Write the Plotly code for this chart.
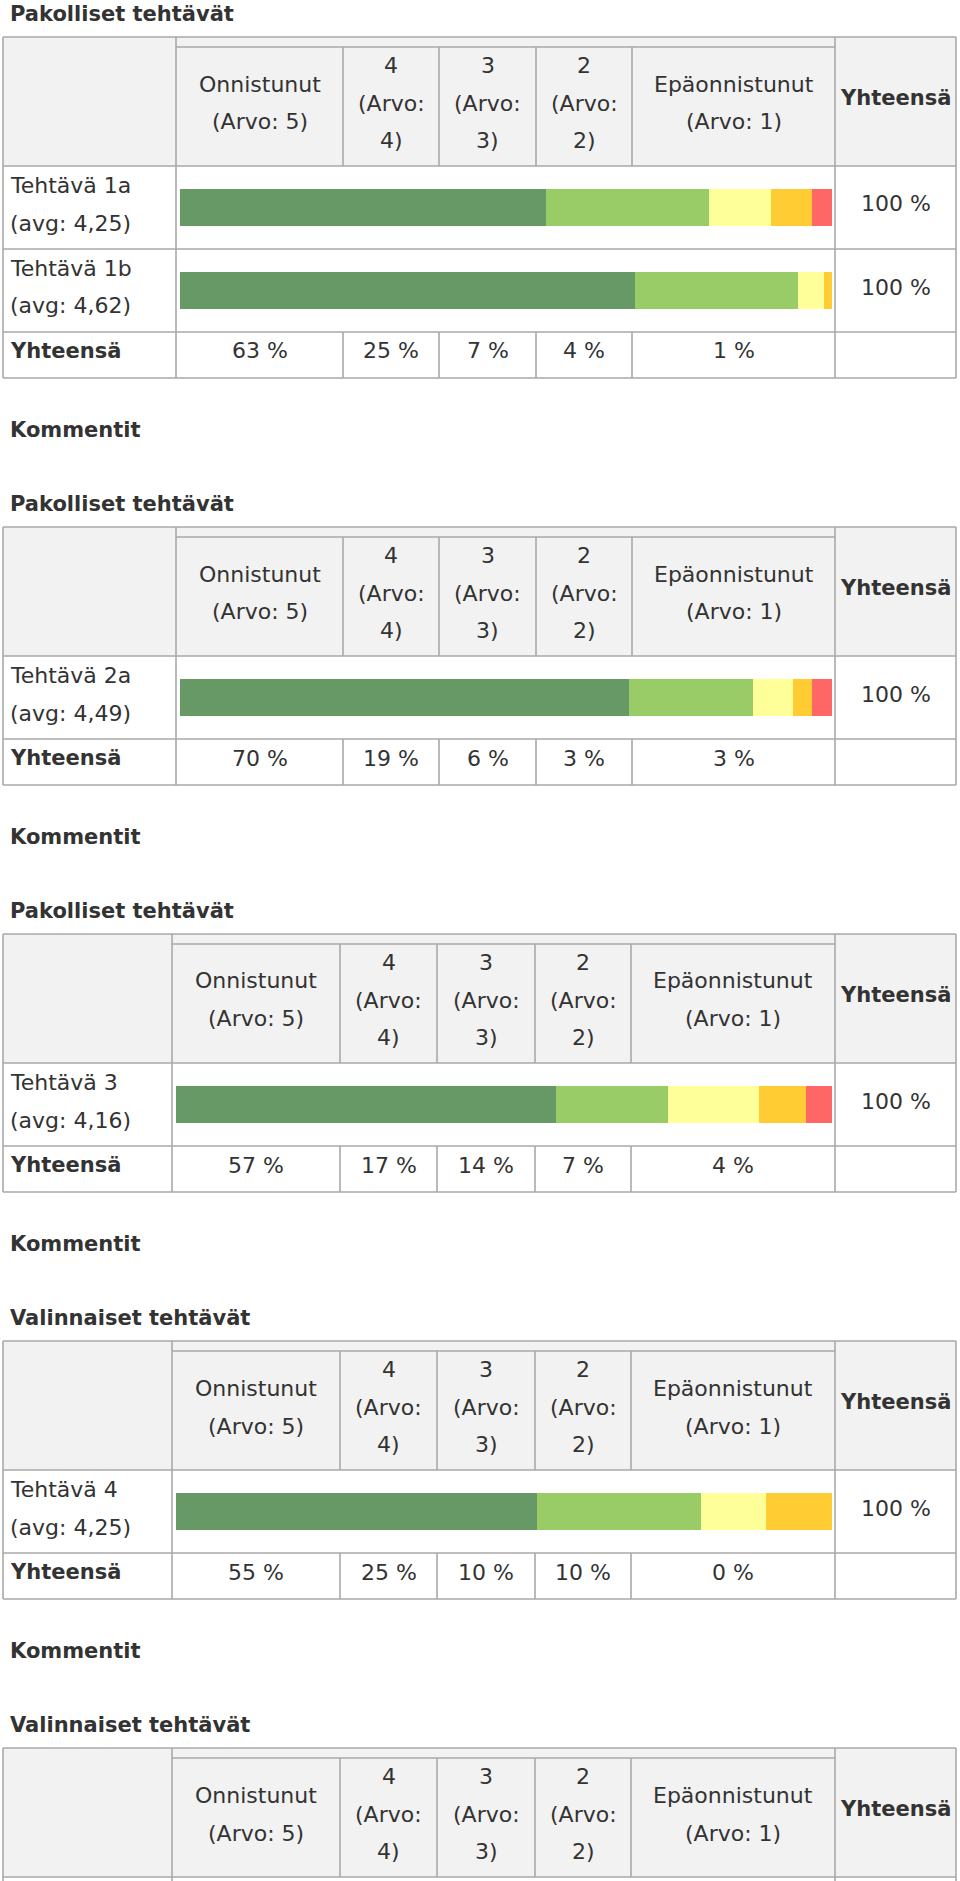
import plotly.graph_objects as go

W, H = 960, 1881

# ---------------- data ----------------
rating_headers = [
    ["Onnistunut", "(Arvo: 5)"],
    ["4", "(Arvo:", "4)"],
    ["3", "(Arvo:", "3)"],
    ["2", "(Arvo:", "2)"],
    ["Epäonnistunut", "(Arvo: 1)"],
]
rating_names = ["Onnistunut (Arvo: 5)", "4 (Arvo: 4)", "3 (Arvo: 3)", "2 (Arvo: 2)", "Epäonnistunut (Arvo: 1)"]
rating_colors = ["#669966", "#99cc66", "#ffff99", "#ffcc33", "#ff6666"]
total_label = "Yhteensä"
comment_label = "Kommentit"

task_names = ["Tehtävä 1a", "Tehtävä 1b", "Tehtävä 2a", "Tehtävä 3", "Tehtävä 4"]
task_avgs = ["(avg: 4,25)", "(avg: 4,62)", "(avg: 4,49)", "(avg: 4,16)", "(avg: 4,25)"]
share_t1a = [56.2, 25.0, 9.4, 6.3, 3.1]
share_t1b = [69.8, 25.0, 4.0, 1.2, 0.0]
share_t2a = [68.9, 19.0, 6.1, 2.9, 3.1]
share_t3 = [57.9, 17.1, 13.9, 7.2, 3.9]
share_t4 = [55.0, 25.0, 10.0, 10.0, 0.0]
task_shares = [share_t1a, share_t1b, share_t2a, share_t3, share_t4]
task_row_totals = ["100 %", "100 %", "100 %", "100 %", "100 %"]

section_titles = ["Pakolliset tehtävät", "Pakolliset tehtävät", "Pakolliset tehtävät",
                  "Valinnaiset tehtävät", "Valinnaiset tehtävät"]
section_tasks = [[0, 1], [2], [3], [4], []]
totals_1 = ["63 %", "25 %", "7 %", "4 %", "1 %"]
totals_2 = ["70 %", "19 %", "6 %", "3 %", "3 %"]
totals_3 = ["57 %", "17 %", "14 %", "7 %", "4 %"]
totals_4 = ["55 %", "25 %", "10 %", "10 %", "0 %"]
section_totals = [totals_1, totals_2, totals_3, totals_4, None]

# ---------------- layout geometry (pixels) ----------------
COLS_A = [3, 176, 343, 439, 536, 632, 835, 956]
COLS_B = [3, 172, 340, 437, 535, 631, 835, 956]
section_cols = [COLS_A, COLS_A, COLS_B, COLS_B, COLS_B]
HEAD_H, SUB_H, ROW_H, TOT_H = 129, 10, 83, 46
LINE = "#a9a9a9"
HEAD_BG = "#f2f2f2"
TXT = "#333333"
FONT = "DejaVu Sans"
FS = 22
FS_B = 21


def px(x):
    return x / W


def py(y):
    return 1 - y / H


shapes = []
annotations = []


def rect(x0, y0, x1, y1, fill):
    shapes.append(dict(type="rect", xref="paper", yref="paper", x0=px(x0), x1=px(x1),
                       y0=py(y1), y1=py(y0), fillcolor=fill, line=dict(width=0), layer="below"))


def line(x0, y0, x1, y1):
    shapes.append(dict(type="line", xref="paper", yref="paper", x0=px(x0), x1=px(x1),
                       y0=py(y0), y1=py(y1), line=dict(color=LINE, width=1.6), layer="above"))


def text(x, y, s, bold=False, anchor="center"):
    annotations.append(dict(xref="paper", yref="paper", x=px(x), y=py(y), text=("<b>%s</b>" % s) if bold else s,
                            showarrow=False, xanchor=anchor, yanchor="middle",
                            font=dict(family=FONT, size=FS_B if bold else FS, color=TXT)))


fig = go.Figure()
axis_n = 0
top = 37
for si in range(len(section_titles)):
    cols = section_cols[si]
    tasks = section_tasks[si]
    totals = section_totals[si]
    text(8, top - 23, section_titles[si], bold=True, anchor="left")

    head_bot = top + HEAD_H
    if totals is not None:
        bottom = head_bot + ROW_H * len(tasks) + TOT_H
    else:
        bottom = H + 20
    # header background
    rect(cols[0], top, cols[7], head_bot, HEAD_BG)
    # outer border
    line(cols[0], top, cols[7], top)
    line(cols[0], top, cols[0], bottom)
    line(cols[7], top, cols[7], bottom)
    if totals is not None:
        line(cols[0], bottom, cols[7], bottom)
    line(cols[1], top, cols[1], bottom)
    line(cols[6], top, cols[6], bottom)
    line(cols[1], top + SUB_H, cols[6], top + SUB_H)
    for c in cols[2:6]:
        line(c, top + SUB_H, c, head_bot)
    line(cols[0], head_bot, cols[7], head_bot)

    # header text
    for ci, lines in enumerate(rating_headers):
        cx = (cols[ci + 1] + cols[ci + 2]) / 2
        if len(lines) == 3:
            offs = [28.5, 66, 103.5]
        else:
            offs = [47, 85]
        for ln, off in zip(lines, offs):
            text(cx, top + off, ln)
    text((cols[6] + cols[7]) / 2, top + 61, total_label, bold=True)

    # task rows
    for ri, ti in enumerate(tasks):
        rt = head_bot + ROW_H * ri
        if ri > 0:
            line(cols[0], rt, cols[7], rt)
        text(8, rt + 19, task_names[ti], anchor="left")
        text(8, rt + 57, task_avgs[ti], anchor="left")
        text((cols[6] + cols[7]) / 2, rt + 38, task_row_totals[ti])
        axis_n += 1
        xa = "xaxis" if axis_n == 1 else "xaxis%d" % axis_n
        ya = "yaxis" if axis_n == 1 else "yaxis%d" % axis_n
        xr = "x" if axis_n == 1 else "x%d" % axis_n
        yr = "y" if axis_n == 1 else "y%d" % axis_n
        fig.update_layout(**{
            xa: dict(domain=[px(cols[1] + 4), px(cols[6] - 3)], range=[0, 100], visible=False,
                     fixedrange=True, anchor=yr),
            ya: dict(domain=[py(rt + 60), py(rt + 23)], range=[-0.5, 0.5], visible=False,
                     fixedrange=True, anchor=xr),
        })
        for k in range(5):
            fig.add_trace(go.Bar(x=[task_shares[ti][k]], y=[0], orientation="h", width=1,
                                 name=rating_names[k], marker=dict(color=rating_colors[k], line=dict(width=0)),
                                 xaxis=xr, yaxis=yr, showlegend=False, hoverinfo="name+x"))

    if totals is not None:
        tr = head_bot + ROW_H * len(tasks)
        line(cols[0], tr, cols[7], tr)
        for c in cols[2:6]:
            line(c, tr, c, bottom)
        text(8, tr + 19, total_label, bold=True, anchor="left")
        for ci, tv in enumerate(totals):
            text((cols[ci + 1] + cols[ci + 2]) / 2, tr + 19, tv)
        text(8, bottom + 52, comment_label, bold=True, anchor="left")
        top = bottom + 149

fig.update_layout(
    width=W, height=H,
    margin=dict(l=0, r=0, t=0, b=0),
    paper_bgcolor="white", plot_bgcolor="rgba(0,0,0,0)",
    barmode="stack", bargap=0,
    shapes=shapes, annotations=annotations,
    showlegend=False,
)

fig.write_html("out.html", config={"displayModeBar": False},
               post_script="document.body.style.margin='0';document.body.style.overflow='hidden';")
